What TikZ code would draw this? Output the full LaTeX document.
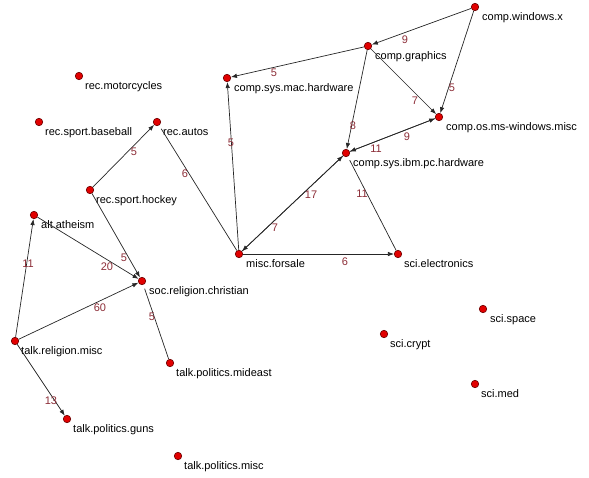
\documentclass[tikz,border=0pt]{standalone}
\usepackage{fontspec}
\setmainfont{Liberation Sans}
\usetikzlibrary{arrows.meta}
\definecolor{dotred}{RGB}{225,0,0}
\definecolor{dotedge}{RGB}{110,0,0}
\definecolor{lblred}{RGB}{140,45,55}
\begin{document}
\begin{tikzpicture}[x=1pt,y=-1pt,
  vtx/.style={circle,fill=dotred,draw=dotedge,line width=0.6pt,inner sep=0pt,minimum size=7.5pt},
  vname/.style={anchor=base west,inner sep=0pt,font=\fontsize{11}{13}\selectfont},
  wt/.style={text=lblred,inner sep=0pt,font=\fontsize{11}{13}\selectfont},
  edgearr/.style={draw=black!85,line width=0.7pt,-{Latex[length=6pt,width=4.5pt]}},
  plainedge/.style={draw=black!85,line width=0.7pt,shorten <=4pt}]
\useasboundingbox (0,0) rectangle (589,477);
% vertices
\node[vtx] (wx) at (475,7) {};
\node[vtx] (gr) at (368,46) {};
\node[vtx] (os) at (439,117) {};
\node[vtx] (ibm) at (346,153) {};
\node[vtx] (mac) at (227,78) {};
\node[vtx] (moto) at (79,76) {};
\node[vtx] (base) at (39,122) {};
\node[vtx] (autos) at (157,122) {};
\node[vtx] (hock) at (90,190) {};
\node[vtx] (ath) at (34,215) {};
\node[vtx] (fs) at (239,254) {};
\node[vtx] (elec) at (398,254) {};
\node[vtx] (chr) at (142,281) {};
\node[vtx] (trm) at (15,341) {};
\node[vtx] (mid) at (170,363) {};
\node[vtx] (guns) at (67,419) {};
\node[vtx] (tpm) at (178,456) {};
\node[vtx] (space) at (483,309) {};
\node[vtx] (crypt) at (384,334) {};
\node[vtx] (med) at (475,384) {};
% vertex names
\node[vname] (wxl) at (482,20) {comp.windows.x};
\node[vname] (grl) at (375,59) {comp.graphics};
\node[vname] (osl) at (446,130) {comp.os.ms-windows.misc};
\node[vname] (ibml) at (353,166) {comp.sys.ibm.pc.hardware};
\node[vname] (macl) at (234,91) {comp.sys.mac.hardware};
\node[vname] (motol) at (85,89) {rec.motorcycles};
\node[vname] (basel) at (45,135) {rec.sport.baseball};
\node[vname] (autosl) at (163,135) {rec.autos};
\node[vname] (hockl) at (96,203) {rec.sport.hockey};
\node[vname] (athl) at (41,228) {alt.atheism};
\node[vname] (fsl) at (246,267) {misc.forsale};
\node[vname] (elecl) at (404,267) {sci.electronics};
\node[vname] (chrl) at (149,294) {soc.religion.christian};
\node[vname] (trml) at (21,354) {talk.religion.misc};
\node[vname] (midl) at (176,376) {talk.politics.mideast};
\node[vname] (gunsl) at (73,432) {talk.politics.guns};
\node[vname] (tpml) at (184,469) {talk.politics.misc};
\node[vname] (spacel) at (490,322) {sci.space};
\node[vname] (cryptl) at (390,347) {sci.crypt};
\node[vname] (medl) at (481,397) {sci.med};
% edges
\draw[edgearr] (wx) -- (gr);
\draw[edgearr] (wx) -- (os);
\draw[edgearr] (gr) -- (mac);
\draw[edgearr] (gr) -- (os);
\draw[edgearr] (gr) -- (ibm);
\draw[edgearr] (ibm) -- (os);
\draw[edgearr] (os) -- (ibm);
\draw[edgearr] (fs) -- (ibm);
\draw[edgearr] (ibm) -- (fs);
\draw[edgearr] (fs) -- (mac);
\draw[edgearr] (fs) -- (elec);
\draw[plainedge] (ibm) -- (elec);
\draw[plainedge] (autos) -- (fs);
\draw[edgearr] (hock) -- (autos);
\draw[edgearr] (hock) -- (chr);
\draw[edgearr] (ath) -- (chr);
\draw[edgearr] (trm) -- (ath);
\draw[edgearr] (trm) -- (chr);
\draw[plainedge] (chr) -- (mid);
\draw[edgearr] (trm) -- (guns);
% weights
\node[wt] (w1) at (405,40) {9};
\node[wt] (w2) at (452,88) {5};
\node[wt] (w3) at (274,73) {5};
\node[wt] (w4) at (415,101) {7};
\node[wt] (w5) at (353,126) {8};
\node[wt] (w6) at (407,137) {9};
\node[wt] (w7) at (376,149) {11};
\node[wt] (w8) at (311,195) {17};
\node[wt] (w9) at (362,194) {11};
\node[wt] (w10) at (275,228) {7};
\node[wt] (w11) at (231,143) {5};
\node[wt] (w12) at (185,174) {6};
\node[wt] (w13) at (134,152) {5};
\node[wt] (w14) at (345,262) {6};
\node[wt] (w15) at (124,258) {5};
\node[wt] (w16) at (107,267) {20};
\node[wt] (w17) at (28,264) {11};
\node[wt] (w18) at (100,308) {60};
\node[wt] (w19) at (152,317) {5};
\node[wt] (w20) at (51,401) {13};
\end{tikzpicture}
\end{document}
